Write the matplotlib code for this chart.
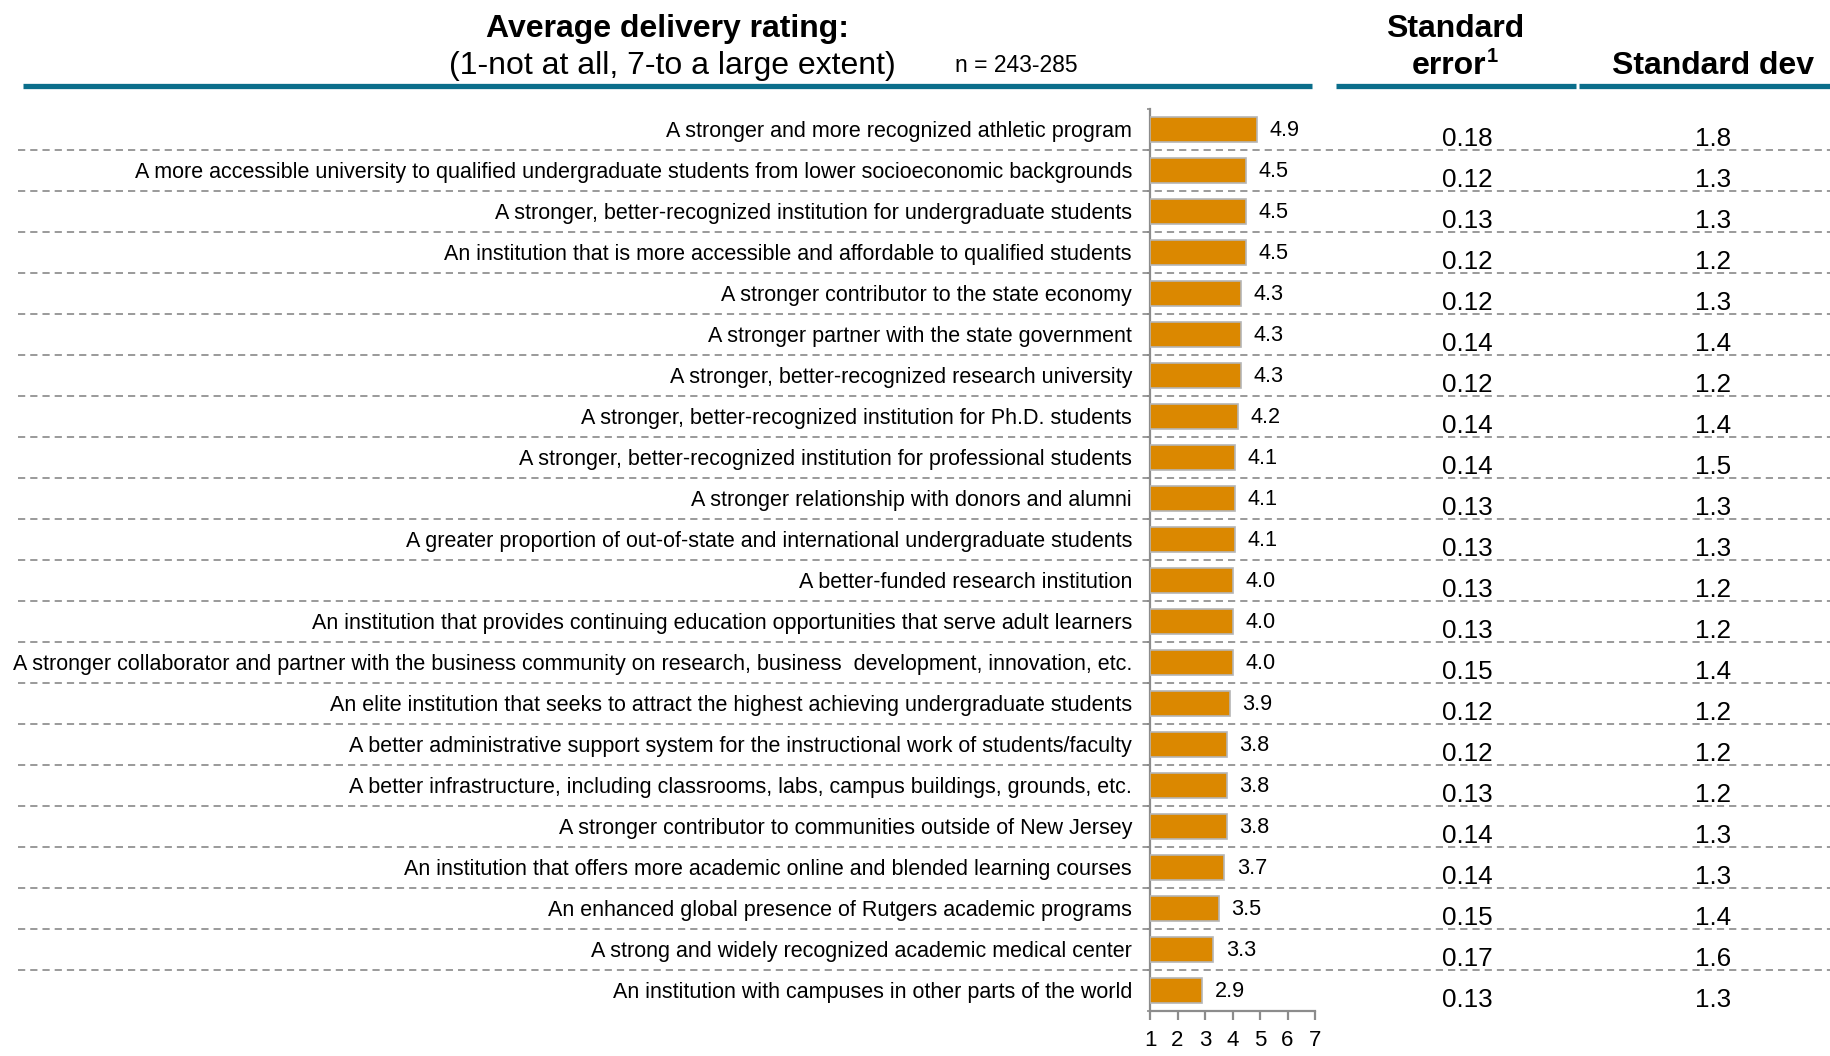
import matplotlib
matplotlib.use("Agg")
import matplotlib.pyplot as plt
from matplotlib.lines import Line2D

plt.rcParams['font.family'] = ['Liberation Sans', 'DejaVu Sans']
plt.rcParams['lines.scale_dashes'] = False

# dati
labels = [
    "A stronger and more recognized athletic program",
    "A more accessible university to qualified undergraduate students from lower socioeconomic backgrounds",
    "A stronger, better-recognized institution for undergraduate students",
    "An institution that is more accessible and affordable to qualified students",
    "A stronger contributor to the state economy",
    "A stronger partner with the state government",
    "A stronger, better-recognized research university",
    "A stronger, better-recognized institution for Ph.D. students",
    "A stronger, better-recognized institution for professional students",
    "A stronger relationship with donors and alumni",
    "A greater proportion of out-of-state and international undergraduate students",
    "A better-funded research institution",
    "An institution that provides continuing education opportunities that serve adult learners",
    "A stronger collaborator and partner with the business community on research, business  development, innovation, etc.",
    "An elite institution that seeks to attract the highest achieving undergraduate students",
    "A better administrative support system for the instructional work of students/faculty",
    "A better infrastructure, including classrooms, labs, campus buildings, grounds, etc.",
    "A stronger contributor to communities outside of New Jersey",
    "An institution that offers more academic online and blended learning courses",
    "An enhanced global presence of Rutgers academic programs",
    "A strong and widely recognized academic medical center",
    "An institution with campuses in other parts of the world",
]
ratings = [4.9, 4.5, 4.5, 4.5, 4.3, 4.3, 4.3, 4.2, 4.1, 4.1, 4.1,
           4.0, 4.0, 4.0, 3.9, 3.8, 3.8, 3.8, 3.7, 3.5, 3.3, 2.9]
std_err = [0.18, 0.12, 0.13, 0.12, 0.12, 0.14, 0.12, 0.14, 0.14, 0.13, 0.13,
           0.13, 0.13, 0.15, 0.12, 0.12, 0.13, 0.14, 0.14, 0.15, 0.17, 0.13]
std_dev = [1.8, 1.3, 1.3, 1.2, 1.3, 1.4, 1.2, 1.4, 1.5, 1.3, 1.3,
           1.2, 1.2, 1.4, 1.2, 1.2, 1.2, 1.3, 1.3, 1.4, 1.6, 1.3]
scale_ticks = [1, 2, 3, 4, 5, 6, 7]

W, H = 1830, 1056
fig = plt.figure(figsize=(W / 100, H / 100), dpi=100)

TEAL = '#0b6e8b'
ORANGE = '#db8800'
n = len(labels)

# area righe (pixel dall'alto: 109 -> 1011)
top_px, bot_px = 109, 1011
rows_box = [0, 1 - bot_px / H, 1, (bot_px - top_px) / H]

bg = fig.add_axes(rows_box)
bg.set_xlim(0, W)
bg.set_ylim(n - 0.5, -0.5)
bg.axis('off')

for i in range(n - 1):
    bg.plot([18, W], [i + 0.5, i + 0.5], color='#9a9a9a', lw=1.4,
            dashes=(5.2, 3.6), zorder=1)

for i, lab in enumerate(labels):
    bg.text(1132, i + 0.05, lab, ha='right', va='center', fontsize=15.5, color='black')
    bg.text(1467, i + 0.22, f"{std_err[i]:.2f}", ha='center', va='center', fontsize=18.7)
    bg.text(1713, i + 0.22, f"{std_dev[i]:.1f}", ha='center', va='center', fontsize=18.7)

# grafico a barre
ax = fig.add_axes([1150 / W, rows_box[1], 165 / W, rows_box[3]])
ax.set_facecolor('none')
ypos = list(range(n))
ax.barh(ypos, [r - 1 for r in ratings], left=1, height=0.63, color=ORANGE,
        edgecolor='#b5b5b5', linewidth=1.2, zorder=3)
for i, r in enumerate(ratings):
    ax.annotate(f"{r:.1f}", (r, i + 0.03), xytext=(9, 0), textcoords='offset points',
                ha='left', va='center', fontsize=15.6)
ax.set_xlim(1, 7)
ax.set_ylim(n - 0.5, -0.5)
ax.set_xticks(scale_ticks)
ax.set_xticklabels([str(t) for t in scale_ticks], fontsize=16)
ax.set_yticks([i + 0.5 for i in range(-1, n)])
ax.set_yticklabels([])
for s in ['top', 'right']:
    ax.spines[s].set_visible(False)
for s in ['left', 'bottom']:
    ax.spines[s].set_color('#8c8c8c')
    ax.spines[s].set_linewidth(1.6)
ax.tick_params(axis='x', direction='out', length=6.5, width=1.6, color='#8c8c8c', pad=7)
ax.tick_params(axis='y', direction='out', length=2.5, width=1.2, color='#8c8c8c')

# intestazioni
def fy(px):
    return 1 - px / H

fig.text(667 / W, fy(37), "Average delivery rating:", ha='center', va='baseline',
         fontsize=23, fontweight='bold')
fig.text(672 / W, fy(74), "(1-not at all, 7-to a large extent)", ha='center', va='baseline',
         fontsize=23)
fig.text(1016 / W, fy(72), "n = 243-285", ha='center', va='baseline', fontsize=16.5)
fig.text(1455 / W, fy(37), "Standard", ha='center', va='baseline', fontsize=23, fontweight='bold')
fig.text(1486 / W, fy(74), "error", ha='right', va='baseline', fontsize=23, fontweight='bold')
fig.text(1487 / W, fy(62), "1", ha='left', va='baseline', fontsize=14.5, fontweight='bold')
fig.text(1713 / W, fy(74), "Standard dev", ha='center', va='baseline', fontsize=23, fontweight='bold')

for x0, x1 in [(23, 1312), (1336, 1576), (1579, 1830)]:
    fig.add_artist(Line2D([x0 / W, x1 / W], [fy(86), fy(86)], color=TEAL, lw=3.8,
                          solid_capstyle='butt', transform=fig.transFigure))

fig.savefig("out.png", dpi=100)
